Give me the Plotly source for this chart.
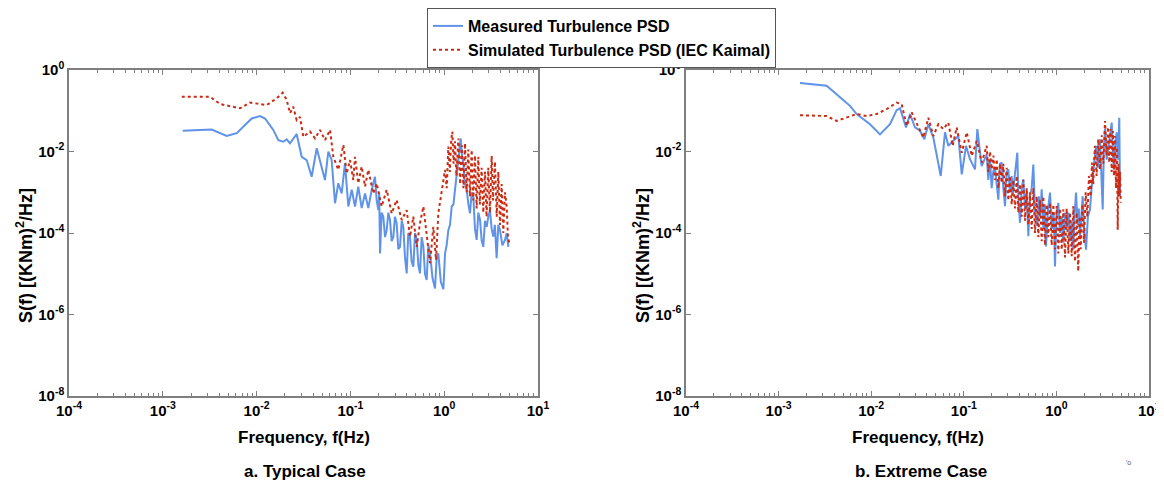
import plotly.graph_objects as go

# ---- Data: values, as log10 exponents of f [Hz] and S(f) ----
# a. Typical case
typ_meas_logf = [-2.788, -2.479, -2.319, -2.212, -2.052, -1.964, -1.91, -1.822, -1.768, -1.715,
                 -1.679, -1.644, -1.573, -1.519, -1.466, -1.413, -1.359, -1.306, -1.271, -1.235,
                 -1.2, -1.164, -1.129, -1.093, -1.058, -1.022, -0.986, -0.951, -0.916, -0.880,
                 -0.844, -0.809, -0.773,
                 -0.738, -0.72, -0.702, -0.693, -0.684, -0.667, -0.649, -0.631, -0.613, -0.596,
                 -0.578, -0.56, -0.542, -0.525, -0.507, -0.489, -0.471, -0.453, -0.436, -0.418,
                 -0.400, -0.383, -0.365, -0.347, -0.329, -0.311, -0.293, -0.275, -0.258, -0.24,
                 -0.222, -0.205, -0.187, -0.169, -0.151, -0.125, -0.098, -0.08, -0.063, -0.036,
                 -0.009, 0.009, 0.026, 0.044, 0.062, 0.080, 0.098, 0.115, 0.133, 0.151,
                 0.165, 0.176, 0.19, 0.204, 0.222, 0.240, 0.258, 0.275, 0.293, 0.311,
                 0.328, 0.346, 0.364, 0.382, 0.4, 0.417, 0.435, 0.453, 0.47, 0.488,
                 0.506, 0.524, 0.54, 0.559, 0.577, 0.595, 0.62, 0.648, 0.666, 0.684]
typ_meas_logS = [-1.49, -1.46, -1.62, -1.55, -1.19, -1.13, -1.19, -1.47, -1.72, -1.76,
                 -1.70, -1.80, -1.57, -2.13, -2.21, -2.62, -1.92, -2.37, -2.70, -2.0,
                 -2.21, -3.27, -2.78, -3.03, -2.29, -3.35, -2.94, -3.35, -2.86, -3.39,
                 -3.03, -3.39, -2.94,
                 -2.62, -3.2, -3.44, -3.0, -4.50, -3.5, -3.60, -4.1, -3.93, -3.5,
                 -3.68, -4.2, -4.09, -3.6, -3.76, -4.4, -4.34, -3.7, -3.85, -4.6,
                 -4.99, -4.0, -4.09, -4.7, -4.83, -4.0, -4.17, -4.8, -4.99, -4.1,
                 -4.34, -5.0, -5.15, -4.3, -4.50, -5.1, -5.36, -4.6, -4.50, -5.2,
                 -5.38, -4.50, -4.3, -3.93, -3.8, -3.35, -3.3, -2.94, -2.6, -2.13,
                 -1.9, -1.68, -2.1, -2.29, -2.8, -2.94, -3.3, -3.52, -3.0, -3.11,
                 -3.9, -4.17, -3.5, -3.68, -4.2, -4.34, -3.7, -3.85, -3.6, -3.44,
                 -3.9, -4.09, -3.8, -4.62, -3.8, -3.93, -4.3, -4.17, -4.0, -4.34]

typ_sim_logf = [-2.798, -2.497, -2.39, -2.177, -2.07, -1.892, -1.786, -1.722, -1.679, -1.644,
                -1.609, -1.573, -1.537, -1.502, -1.431, -1.377, -1.324, -1.271, -1.217, -1.182,
                -1.129, -1.075, -1.040, -1.004, -0.969, -0.951, -0.916, -0.880, -0.844, -0.809,
                -0.756, -0.720, -0.667, -0.613, -0.560, -0.507, -0.453, -0.400, -0.365, -0.329,
                -0.293, -0.258, -0.222, -0.187, -0.151, -0.116, -0.087, -0.063, -0.027,
                0.009, 0.027, 0.044, 0.06, 0.075, 0.087, 0.10, 0.115, 0.13, 0.151,
                0.17, 0.187, 0.205, 0.222, 0.24, 0.257, 0.275, 0.293, 0.31, 0.328,
                0.346, 0.364, 0.38, 0.399, 0.417, 0.435, 0.452, 0.470, 0.488, 0.506,
                0.52, 0.541, 0.56, 0.577, 0.595, 0.612, 0.63, 0.648, 0.666, 0.68, 0.694]
typ_sim_logS = [-0.655, -0.655, -0.834, -0.94, -0.80, -0.86, -0.695, -0.557, -0.736, -1.06,
                -0.90, -1.23, -1.15, -1.64, -1.51, -1.68, -1.47, -1.72, -1.47, -2.13,
                -2.45, -1.84, -2.54, -2.21, -2.70, -2.13, -2.78, -2.37, -2.86, -2.45,
                -3.03, -2.78, -3.35, -2.94, -3.52, -3.19, -3.68, -3.44, -4.09, -3.60,
                -4.34, -3.76, -3.35, -4.09, -4.74, -3.85, -4.66, -3.52, -2.94,
                -2.45, -2.9, -1.88, -2.5, -1.7, -1.51, -2.3, -1.75, -2.6, -1.68,
                -2.8, -1.85, -2.9, -1.80, -3.0, -1.95, -3.1, -1.96, -3.2, -2.1,
                -3.4, -2.13, -3.3, -2.4, -3.5, -2.5, -3.6, -2.4, -3.5, -2.11,
                -3.2, -2.25, -3.6, -2.5, -3.8, -2.8, -4.0, -3.0, -3.35, -4.1, -4.25]

# b. Extreme case
ext_meas_logf = [-2.769, -2.481, -2.337, -2.229, -2.157, -2.013, -1.905, -1.797, -1.725, -1.689,
                 -1.624, -1.581, -1.527, -1.473, -1.426, -1.383, -1.329, -1.249, -1.203, -1.167,
                 -1.059, -1.022, -0.976, -0.933, -0.879, -0.854, -0.807,
                 -0.753, -0.735, -0.717, -0.699, -0.681, -0.663, -0.645, -0.627, -0.609, -0.591,
                 -0.573, -0.555, -0.537, -0.519, -0.501, -0.483, -0.472, -0.447, -0.422, -0.41,
                 -0.393, -0.375, -0.357, -0.339, -0.321, -0.303, -0.285, -0.267, -0.249, -0.231,
                 -0.206, -0.19, -0.175, -0.159, -0.14, -0.125, -0.112, -0.09, -0.069, -0.05,
                 -0.03, -0.015, 0.0, 0.021, 0.04, 0.058, 0.075, 0.095, 0.11, 0.129,
                 0.15, 0.165, 0.183, 0.198, 0.212, 0.23, 0.242, 0.255, 0.27, 0.284,
                 0.30, 0.320, 0.34, 0.363, 0.38, 0.398, 0.416, 0.434, 0.45, 0.471,
                 0.485, 0.500, 0.512, 0.525, 0.543, 0.561, 0.58, 0.597, 0.61, 0.622,
                 0.636, 0.651, 0.665, 0.679, 0.687]
ext_meas_logS = [-0.32, -0.386, -0.67, -0.88, -1.08, -1.33, -1.58, -1.33, -0.985, -0.94,
                 -1.41, -1.08, -1.41, -1.49, -1.70, -1.33, -1.66, -2.60, -1.53, -1.86,
                 -1.62, -2.56, -1.86, -2.19, -2.44, -1.45, -2.36,
                 -2.07, -2.7, -2.2, -2.9, -2.48, -2.4, -2.9, -3.18, -2.3, -2.27,
                 -2.9, -3.34, -2.5, -2.44, -3.0, -2.6, -3.05, -2.5, -2.03, -3.2,
                 -3.75, -2.9, -2.68, -3.4, -3.0, -4.08, -3.1, -2.9, -2.32, -3.5,
                 -3.83, -3.1, -3.6, -2.93, -3.9, -3.3, -4.33, -3.4, -3.01, -3.9,
                 -3.5, -4.82, -3.6, -3.26, -4.0, -3.6, -4.24, -3.5, -3.9, -3.50,
                 -4.2, -3.7, -4.41, -3.5, -3.01, -3.8, -3.4, -4.08, -3.5, -3.10,
                 -3.9, -4.41, -3.6, -3.42, -2.9, -2.44, -2.1, -1.86, -2.4, -1.70,
                 -2.6, -3.42, -2.0, -1.45, -2.2, -1.86, -1.6, -1.29, -2.0, -2.44,
                 -1.8, -1.53, -2.2, -1.17, -3.10]

ext_sim_logf = [-2.769, -2.481, -2.373, -2.265, -2.157, -2.049, -1.941, -1.833, -1.725, -1.671,
                -1.617, -1.563, -1.509, -1.437, -1.383, -1.329, -1.275, -1.221, -1.167, -1.120,
                -1.077, -1.022, -0.968, -0.914, -0.860, -0.807,
                -0.753, -0.735, -0.717, -0.699, -0.68, -0.663, -0.645, -0.627, -0.609, -0.591,
                -0.573, -0.555, -0.537, -0.519, -0.501, -0.483, -0.465, -0.447, -0.429, -0.411,
                -0.393, -0.375, -0.357, -0.339, -0.321, -0.303, -0.285, -0.267, -0.249, -0.231,
                -0.213, -0.195, -0.177, -0.159, -0.141, -0.123, -0.105, -0.087, -0.069, -0.051,
                -0.033, -0.015, 0.003, 0.021, 0.039, 0.057, 0.075, 0.093, 0.111, 0.129,
                0.147, 0.165, 0.183, 0.201, 0.219, 0.236, 0.25, 0.262, 0.28, 0.298,
                0.316, 0.334, 0.352, 0.370, 0.385, 0.398, 0.416, 0.434, 0.452, 0.471,
                0.49, 0.507, 0.525, 0.543, 0.557, 0.571, 0.585, 0.597, 0.61, 0.622,
                0.633, 0.644, 0.653, 0.662, 0.671, 0.679, 0.687, 0.695]
ext_sim_logS = [-1.11, -1.13, -1.25, -1.17, -1.08, -1.13, -1.08, -0.96, -0.80, -0.84,
                -1.37, -1.04, -1.29, -1.66, -1.17, -1.62, -1.33, -1.45, -1.29, -1.86,
                -1.41, -2.03, -1.53, -2.11, -1.74, -2.27,
                -1.86, -2.5, -2.0, -2.44, -2.1, -2.7, -2.19, -2.9, -2.3, -2.77,
                -2.3, -3.1, -2.4, -3.2, -2.6, -3.3, -2.7, -3.4, -2.6, -3.5,
                -2.8, -3.6, -2.7, -3.7, -2.9, -3.8, -3.0, -3.9, -2.9, -4.0,
                -3.1, -4.1, -3.2, -4.2, -3.1, -4.3, -3.3, -4.1, -3.26, -4.3,
                -3.3, -4.4, -3.34, -4.5, -3.4, -4.41, -3.42, -4.6, -3.4, -4.5,
                -3.5, -4.57, -3.34, -4.7, -3.5, -4.94, -3.6, -4.4, -3.3, -4.24,
                -3.0, -3.6, -2.6, -3.1, -2.27, -2.8, -1.86, -2.6, -1.7, -2.44,
                -1.6, -2.3, -1.25, -2.1, -1.4, -2.27, -1.45, -2.5, -1.5, -2.60,
                -1.62, -2.9, -1.9, -3.92, -2.3, -3.1, -2.5, -3.26]

series_names = ["Measured Turbulence PSD", "Simulated Turbulence PSD (IEC Kaimal)"]
x_tick_exp = [-4, -3, -2, -1, 0, 1]
y_tick_exp = [-8, -6, -4, -2, 0]
captions = ["a. Typical Case", "b. Extreme Case"]
x_title = "Frequency, f(Hz)"
y_title = "S(f) [(KNm)<sup>2</sup>/Hz]"

for a, b in [(typ_meas_logf, typ_meas_logS), (typ_sim_logf, typ_sim_logS),
             (ext_meas_logf, ext_meas_logS), (ext_sim_logf, ext_sim_logS)]:
    assert len(a) == len(b), (len(a), len(b))


def vals(exps):
    return [10.0 ** e for e in exps]


# The page body has an 8px margin, so the figure is laid out in screen pixels minus 8.
W, H, OFF = 1156, 472, 8


def px(sx):
    return (sx - OFF) / W


def py(sy):
    return 1 - (sy - OFF) / H


BLUE = "#5F93EA"
RED = "#CC2A12"
FONT = "Liberation Sans"

fig = go.Figure()

panels = [
    ("x", "y", typ_meas_logf, typ_meas_logS, typ_sim_logf, typ_sim_logS, True),
    ("x2", "y2", ext_meas_logf, ext_meas_logS, ext_sim_logf, ext_sim_logS, False),
]
for xa, ya, mf, ms, sf, ss, show in panels:
    fig.add_trace(go.Scatter(x=vals(mf), y=vals(ms), mode="lines", name=series_names[0],
                             line=dict(color=BLUE, width=2), xaxis=xa, yaxis=ya,
                             showlegend=show, legendrank=1))
    fig.add_trace(go.Scatter(x=vals(sf), y=vals(ss), mode="lines", name=series_names[1],
                             line=dict(color=RED, width=2, dash="dot"), xaxis=xa, yaxis=ya,
                             showlegend=show, legendrank=2))

minor_vals = [k * 10.0 ** d for d in range(-4, 1) for k in range(2, 10)]
x_ticktext = [f"10<sup>{e}</sup>" for e in x_tick_exp]
# right panel: the last label sits at the page edge, so it is drawn as an annotation below
x2_ticktext = x_ticktext[:-1] + [""]
y_ticktext = [f"10<sup>{e}</sup>" for e in y_tick_exp]

tick_font = dict(family=FONT, size=15, color="black", weight="bold")
axis_common = dict(showline=True, linecolor="#7f7f7f", linewidth=1.5, mirror="ticks",
                   ticks="inside", ticklen=5, tickcolor="#7f7f7f", tickwidth=1,
                   showgrid=False, zeroline=False, automargin=False,
                   ticklabeloverflow="allow", tickfont=tick_font)

xdoms = [[px(69), px(538)], [px(686), px(1149)]]
ydom = [py(396), py(70)]

layout_axes = {}
for i, (xn, yn) in enumerate([("xaxis", "yaxis"), ("xaxis2", "yaxis2")]):
    layout_axes[xn] = dict(axis_common, type="log", range=[-4, 1], domain=xdoms[i],
                           anchor="y" if i == 0 else "y2",
                           tickmode="array", tickvals=vals(x_tick_exp),
                           ticktext=x_ticktext if i == 0 else x2_ticktext,
                           minor=dict(tickmode="array", tickvals=minor_vals, ticks="inside",
                                      ticklen=3, tickcolor="#7f7f7f", showgrid=False))
    layout_axes[yn] = dict(axis_common, type="log", range=[-8, 0], domain=ydom,
                           anchor="x" if i == 0 else "x2",
                           tickmode="array", tickvals=vals(y_tick_exp), ticktext=y_ticktext)

title_font = dict(family=FONT, size=17, color="black", weight="bold")
ytitle_font = dict(family=FONT, size=18, color="black", weight="bold")
annotations = []
xcenters = [px((69 + 538) / 2), px((686 + 1149) / 2)]
ytitle_x = [px(24), px(641)]
for i in range(2):
    annotations.append(dict(text=x_title, x=xcenters[i], y=py(437), xref="paper", yref="paper",
                            showarrow=False, font=title_font, xanchor="center", yanchor="middle"))
    annotations.append(dict(text=y_title, x=ytitle_x[i], y=py(256), xref="paper", yref="paper",
                            showarrow=False, font=ytitle_font, textangle=-90,
                            xanchor="center", yanchor="middle"))
annotations.append(dict(text=x_ticktext[-1], x=px(1149), y=py(399), xref="paper", yref="paper",
                        showarrow=False, font=tick_font, xanchor="center", yanchor="top",
                        borderpad=0))
annotations.append(dict(text=captions[0], x=px(305), y=py(471), xref="paper", yref="paper",
                        showarrow=False, font=title_font, xanchor="center", yanchor="middle"))
annotations.append(dict(text=captions[1], x=px(921), y=py(471), xref="paper", yref="paper",
                        showarrow=False, font=title_font, xanchor="center", yanchor="middle"))
annotations.append(dict(text="'o", x=px(1128), y=py(462), xref="paper", yref="paper",
                        showarrow=False, font=dict(family=FONT, size=7, color="#555"),
                        xanchor="center", yanchor="middle"))

fig.update_layout(
    width=W, height=H,
    margin=dict(l=0, r=0, t=0, b=0, autoexpand=False),
    paper_bgcolor="white", plot_bgcolor="white",
    showlegend=True,
    legend=dict(x=px(427), y=1, xanchor="left", yanchor="top",
                bordercolor="#555555", borderwidth=1, bgcolor="white",
                font=dict(family=FONT, size=16, color="black", weight="bold"),
                tracegroupgap=0, itemwidth=30),
    annotations=annotations,
    **layout_axes,
)

fig.write_html("out.html")
